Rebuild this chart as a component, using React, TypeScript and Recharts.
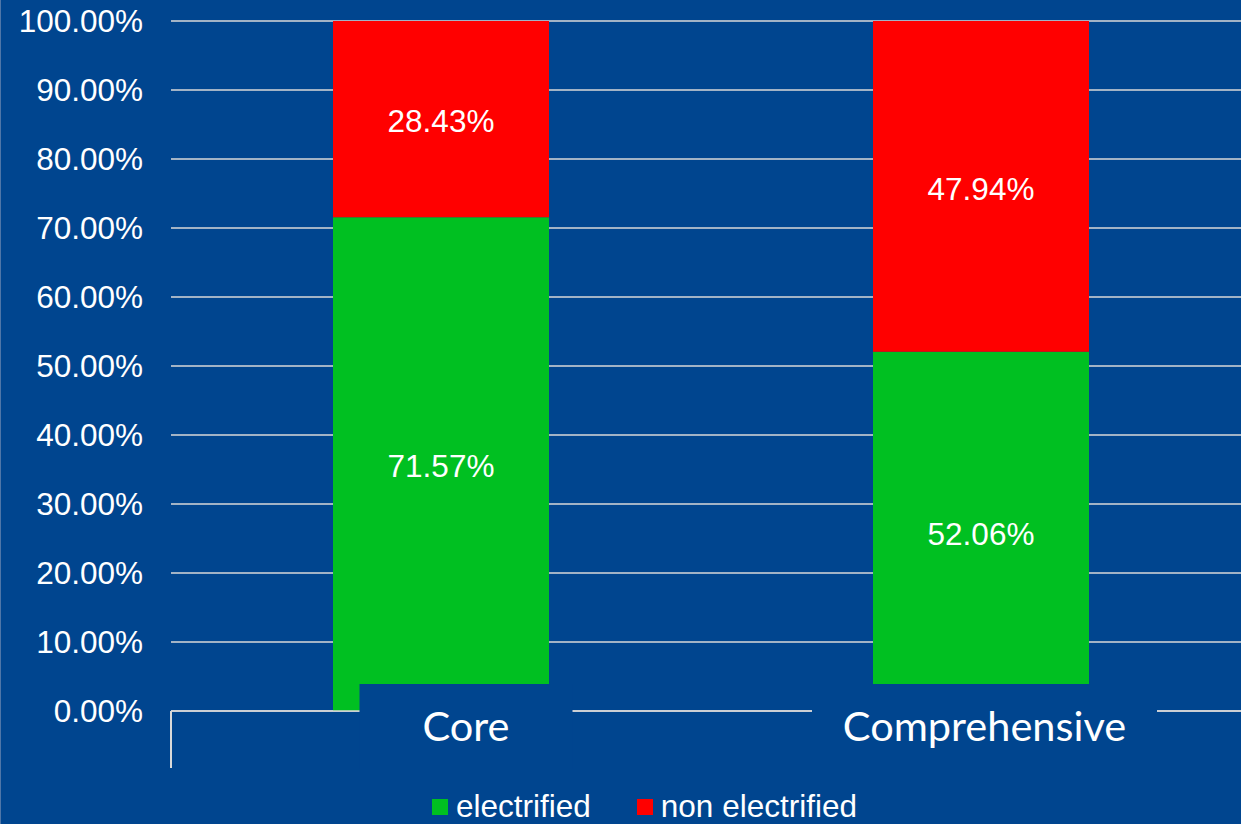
import React from "react";
import {
  BarChart,
  Bar,
  XAxis,
  YAxis,
  CartesianGrid,
  Legend,
  LabelList,
} from "recharts";

const categories = ["Core", "Comprehensive"];
const electrified = [71.57, 52.06];
const nonElectrified = [28.43, 47.94];
const yTicks = [0, 10, 20, 30, 40, 50, 60, 70, 80, 90, 100];

const BG = "#00458F";
const GREEN = "#00C021";
const RED = "#FF0000";
const GRID = "#D9D9D9";
const ARIAL = '"Liberation Sans", Arial, sans-serif';

const data = categories.map((name, i) => ({
  name,
  electrified: electrified[i],
  nonElectrified: nonElectrified[i],
}));

const pct = (v: number) => `${Number(v).toFixed(2)}%`;

// the category text sits on a filled plate that hides the foot of the bars
const plates = [
  { dx: 25, w: 213 },
  { dx: 3.5, w: 345 },
];

function CategoryTick(props: any) {
  const { x, y, payload, index } = props;
  const half = payload?.offset || 270;
  const p = plates[index] || { dx: 0, w: 200 };
  return (
    <g>
      {index === 0 && (
        <line
          x1={x - half}
          x2={x - half}
          y1={y}
          y2={y + 57}
          stroke={GRID}
          strokeWidth={2}
        />
      )}
      <rect x={x + p.dx - p.w / 2} y={y - 27} width={p.w} height={85} fill={BG} />
      <text
        x={x + p.dx}
        y={y + 14}
        textAnchor="middle"
        dominantBaseline="central"
        fill="#fff"
        fontSize={41.5}
        fontFamily="Lato, sans-serif"
      >
        {payload.value}
      </text>
    </g>
  );
}

const legendItems = [
  { label: "electrified", color: GREEN },
  { label: "non electrified", color: RED },
];

function LegendContent() {
  return (
    <div
      style={{
        display: "flex",
        alignItems: "center",
        height: 53,
        boxSizing: "border-box",
        paddingLeft: 432,
        paddingTop: 18,
        fontFamily: ARIAL,
        fontSize: 31.5,
        color: "#fff",
      }}
    >
      {legendItems.map((it, i) => (
        <div
          key={it.label}
          style={{ display: "flex", alignItems: "center", marginRight: i === 0 ? 46 : 0 }}
        >
          <span
            style={{
              display: "inline-block",
              width: 16,
              height: 16,
              background: it.color,
              marginRight: 8,
            }}
          />
          <span>{it.label}</span>
        </div>
      ))}
    </div>
  );
}

export default function App() {
  return (
    <div
      style={{
        position: "fixed",
        left: 0,
        top: 0,
        width: 1241,
        height: 824,
        background: BG,
        overflow: "hidden",
        boxShadow: "inset 1px 0 0 #4f76a8",
      }}
    >
      <BarChart
        width={1251}
        height={824}
        data={data}
        margin={{ top: 21, right: 0, left: 0, bottom: 0 }}
      >
        <CartesianGrid vertical={false} stroke={GRID} strokeWidth={1.5} />
        <YAxis
          type="number"
          domain={[0, 100]}
          ticks={yTicks}
          interval={0}
          width={171}
          tickFormatter={pct}
          axisLine={false}
          tickLine={false}
          tickSize={0}
          tickMargin={28}
          tick={{ fill: "#fff", fontSize: 31.5, fontFamily: ARIAL }}
        />
        <Bar
          dataKey="electrified"
          stackId="a"
          fill={GREEN}
          barSize={216}
          isAnimationActive={false}
        >
          <LabelList
            dataKey="electrified"
            position="center"
            formatter={pct}
            fill="#fff"
            fontSize={31.5}
            fontFamily={ARIAL}
            dy={2}
          />
        </Bar>
        <Bar
          dataKey="nonElectrified"
          stackId="a"
          fill={RED}
          barSize={216}
          isAnimationActive={false}
        >
          <LabelList
            dataKey="nonElectrified"
            position="center"
            formatter={pct}
            fill="#fff"
            fontSize={31.5}
            fontFamily={ARIAL}
            dy={2}
          />
        </Bar>
        <XAxis
          dataKey="name"
          interval={0}
          height={60}
          axisLine={{ stroke: GRID, strokeWidth: 1.5 }}
          tickLine={false}
          tickSize={0}
          tickMargin={0}
          tick={<CategoryTick />}
        />
        <Legend verticalAlign="bottom" content={<LegendContent />} />
      </BarChart>
    </div>
  );
}
